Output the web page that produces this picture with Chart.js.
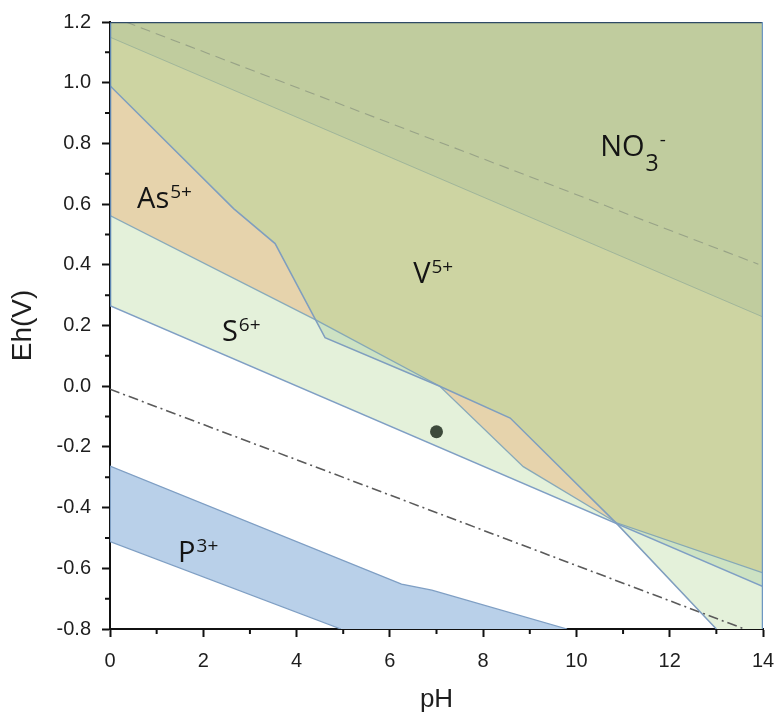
<!DOCTYPE html>
<html>
<head>
<meta charset="utf-8">
<script src="https://cdn.jsdelivr.net/npm/chart.js@4.4.1/dist/chart.umd.min.js"></script>
<style>
  html, body { margin: 0; padding: 0; background: #fff; }
</style>
</head>
<body>
<canvas id="ehph" width="776" height="718"></canvas>
<script>
// axis ticks
const xTickValues = [0, 2, 4, 6, 8, 10, 12, 14];
const xMinorTicks = [1, 3, 5, 7, 9, 11, 13];
const yTickValues = [-0.8, -0.6, -0.4, -0.2, 0.0, 0.2, 0.4, 0.6, 0.8, 1.0, 1.2];
const yMinorTicks = [-0.7, -0.5, -0.3, -0.1, 0.1, 0.3, 0.5, 0.7, 0.9, 1.1];

// boundary lines, [pH, Eh]
const no3Line = [[0, 1.15], [14, 0.228]];
const o2Line = [[0.34, 1.2], [13.9, 0.402]];
const h2Line = [[0, -0.01], [13.6, -0.8]];
const vLine = [[0, 0.99], [2.65, 0.585], [3.54, 0.47], [4.61, 0.16], [7.07, 0.0], [8.58, -0.105], [10.86, -0.452], [13.0, -0.8]];
const asLine = [[0, 0.5625], [4.43, 0.217], [7.07, 0.0], [8.86, -0.265], [10.86, -0.45], [14, -0.615]];
const sLine = [[0, 0.265], [14, -0.66]];
const pUpper = [[0, -0.263], [6.25, -0.652], [6.9, -0.672], [9.8, -0.8]];
const pLower = [[0, -0.512], [4.95, -0.8]];
const samplePoint = [[7.0, -0.15]];

// filled regions (painted bottom to top)
const sRegion = [[0, 0.265], [10.86, -0.452], [13.0, -0.8], [14, -0.8], [14, 1.2], [0, 1.2]];
const vsRegion = [[0, 0.99], [2.65, 0.585], [3.54, 0.47], [4.61, 0.16], [7.07, 0.0], [8.58, -0.105], [10.86, -0.452], [14, -0.66], [14, 1.2], [0, 1.2]];
const asRegion = [[0, 0.5625], [4.43, 0.217], [7.07, 0.0], [8.86, -0.265], [10.86, -0.45], [14, -0.615], [14, 1.2], [0, 1.2]];
const vAsRegion = [[0, 0.99], [2.65, 0.585], [3.54, 0.47], [4.41, 0.219], [4.43, 0.217], [7.07, 0.0], [8.58, -0.105], [10.86, -0.452], [14, -0.615], [14, 1.2], [0, 1.2]];
const no3Region = [[0, 1.15], [14, 0.228], [14, 1.2], [0, 1.2]];
const pRegion = [[0, -0.263], [6.25, -0.652], [6.9, -0.672], [9.8, -0.8], [4.95, -0.8], [0, -0.512]];

// region labels: left edge / baseline in data units
const regionLabels = [
  { text: 'NO', sub: '3', sup: '-', x: 10.51, y: 0.76 },
  { text: 'V', sup: '5+', x: 6.5, y: 0.339 },
  { text: 'As', sup: '5+', x: 0.58, y: 0.586 },
  { text: 'S', sup: '6+', x: 2.4, y: 0.148 },
  { text: 'P', sup: '3+', x: 1.46, y: -0.579 },
];

const pts = (arr) => arr.map(([x, y]) => ({ x, y }));

const area = (data, color) => ({
  data: pts(data), showLine: true, fill: 'shape', backgroundColor: color,
  borderWidth: 0, borderColor: 'rgba(0,0,0,0)', pointRadius: 0,
});
const line = (data, color, width, dash) => ({
  data: pts(data), showLine: true, fill: false, borderColor: color,
  borderWidth: width, borderDash: dash || [], pointRadius: 0, tension: 0,
});

const datasets = [
  area(sRegion, '#e4f1da'),
  area(vsRegion, '#cde2c3'),
  area(asRegion, '#e6d3ac'),
  area(vAsRegion, '#cdd4a2'),
  area(no3Region, '#c0cc9e'),
  area(pRegion, '#b9d0e9'),
  line(no3Line, 'rgba(130,160,150,0.55)', 1),
  line(o2Line, 'rgba(125,135,120,0.6)', 1.1, [10, 6]),
  line(h2Line, '#5a5a5a', 1.6, [10, 4, 2, 4]),
  line(asLine, 'rgba(120,160,185,0.85)', 1.3),
  line(sLine, '#7f9fc4', 1.5),
  line(vLine, '#7f9ebf', 1.5),
  line(pUpper, '#7f9fc4', 1.3),
  line(pLower, '#7f9fc4', 1.3),
  line([[0, 0.265], [0, 1.2]], '#5f87b3', 2.5),
  line([[0, -0.512], [0, -0.263]], '#7f9fc4', 2),
  line([[0, 1.2], [14, 1.2]], '#2f4a66', 2.5),
  line([[14, -0.8], [14, 1.2]], '#6d97c2', 2.5),
  {
    data: pts(samplePoint), pointRadius: 6.5, pointBackgroundColor: '#3d4a3b',
    pointBorderWidth: 0, showLine: false,
  },
];
datasets.forEach((d, i) => { d.order = datasets.length - i; });

const overlay = {
  id: 'overlay',
  afterDraw(chart) {
    const { ctx, scales: { x, y } } = chart;
    ctx.save();
    // minor ticks
    ctx.strokeStyle = '#111';
    ctx.lineWidth = 2;
    ctx.beginPath();
    xMinorTicks.forEach(v => {
      const px = x.getPixelForValue(v);
      ctx.moveTo(px, y.bottom);
      ctx.lineTo(px, y.bottom + 5);
    });
    yMinorTicks.forEach(v => {
      const py = y.getPixelForValue(v);
      ctx.moveTo(x.left, py);
      ctx.lineTo(x.left - 5, py);
    });
    ctx.stroke();
    // region labels
    ctx.fillStyle = '#141414';
    ctx.textAlign = 'left';
    ctx.textBaseline = 'alphabetic';
    regionLabels.forEach(lab => {
      const px = x.getPixelForValue(lab.x);
      const py = y.getPixelForValue(lab.y);
      ctx.font = '29px "Open Sans"';
      ctx.fillText(lab.text, px, py);
      let cx = px + ctx.measureText(lab.text).width + 1;
      if (lab.sub) {
        ctx.font = '23px "Open Sans"';
        ctx.fillText(lab.sub, cx, py + 15);
        cx += ctx.measureText(lab.sub).width + 1;
      }
      if (lab.sup) {
        ctx.font = '19px "Open Sans"';
        ctx.fillText(lab.sup, cx, py - 10);
      }
    });
    ctx.restore();
  },
};

new Chart(document.getElementById('ehph'), {
  type: 'scatter',
  data: { datasets },
  options: {
    responsive: false,
    animation: false,
    layout: { padding: { top: 22, right: 13, bottom: 0, left: 0 } },
    plugins: { legend: { display: false }, tooltip: { enabled: false } },
    scales: {
      x: {
        type: 'linear', min: 0, max: 14,
        afterBuildTicks: s => { s.ticks = xTickValues.map(v => ({ value: v })); },
        afterFit: s => { s.height = 89; s.paddingLeft = 0; s.paddingRight = 0; },
        ticks: { color: '#1e1e1e', font: { family: '"Liberation Sans", Arial', size: 20 }, padding: 12,
          callback: v => String(v) },
        grid: { drawOnChartArea: false, tickLength: 8, tickWidth: 2, tickColor: '#111' },
        border: { display: true, color: '#111', width: 2 },
        title: { display: true, text: 'pH', color: '#1e1e1e',
          font: { family: '"Liberation Sans", Arial', size: 26 }, padding: { top: 0, bottom: 3 } },
      },
      y: {
        type: 'linear', min: -0.8, max: 1.2,
        afterBuildTicks: s => { s.ticks = yTickValues.map(v => ({ value: v })); },
        afterFit: s => { s.width = 110; s.paddingTop = 0; s.paddingBottom = 0; },
        ticks: { color: '#1e1e1e', font: { family: '"Liberation Sans", Arial', size: 20 }, padding: 11,
          callback: v => (Math.abs(v) < 1e-9 ? 0 : v).toFixed(1) },
        grid: { drawOnChartArea: false, tickLength: 8, tickWidth: 2, tickColor: '#111' },
        border: { display: true, color: '#111', width: 2 },
        title: { display: true, text: 'Eh(V)', color: '#1e1e1e',
          font: { family: '"Liberation Sans", Arial', size: 28 }, padding: { top: 6, bottom: 0 } },
      },
    },
  },
  plugins: [overlay],
});
</script>
</body>
</html>
